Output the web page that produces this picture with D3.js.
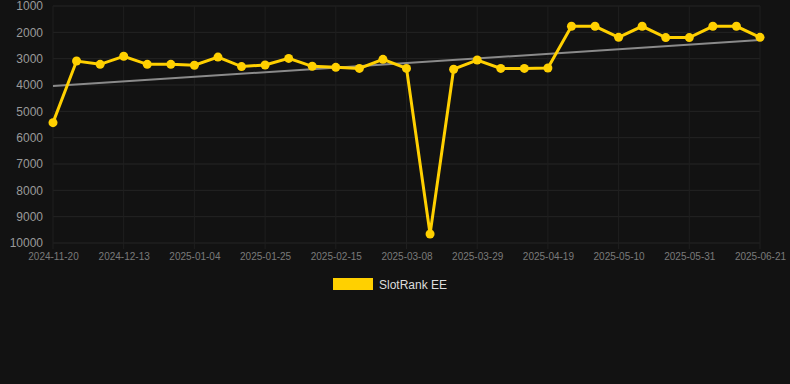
<!DOCTYPE html>
<html>
<head>
<meta charset="utf-8">
<script src="https://cdn.jsdelivr.net/npm/d3@7"></script>
<style>
  body { margin: 0; background: #121212; }
  svg { display: block; font-family: "Liberation Sans", Arial, sans-serif; }
</style>
</head>
<body>
<div id="chart"></div>
<script>
// dates (one point per week roughly), only every third is labelled
var dates = ["2024-11-20", "2024-11-27", "2024-12-06", "2024-12-13", "2024-12-20", "2024-12-27",
  "2025-01-04", "2025-01-11", "2025-01-18", "2025-01-25", "2025-02-01", "2025-02-08",
  "2025-02-15", "2025-02-22", "2025-03-01", "2025-03-08", "2025-03-15", "2025-03-22",
  "2025-03-29", "2025-04-05", "2025-04-12", "2025-04-19", "2025-04-26", "2025-05-03",
  "2025-05-10", "2025-05-17", "2025-05-24", "2025-05-31", "2025-06-07", "2025-06-14",
  "2025-06-21"];
var rankValues = [5430, 3090, 3215, 2910, 3215, 3215, 3250, 2940, 3300, 3240, 2990, 3290,
  3330, 3370, 3025, 3370, 9660, 3400, 3050, 3370, 3370, 3355, 1770, 1770, 2190, 1770,
  2200, 2200, 1770, 1770, 2190];
var trendValues = [4040, 2290]; // start / end of the trend line
var yTicks = [1000, 2000, 3000, 4000, 5000, 6000, 7000, 8000, 9000, 10000];
var seriesName = "SlotRank EE";

var width = 790, height = 384;
var lineColor = "#ffd000";

var svg = d3.select("#chart").append("svg")
  .attr("width", width)
  .attr("height", height);

svg.append("rect").attr("width", width).attr("height", height).attr("fill", "#121212");

// scales
var x = d3.scalePoint()
  .domain(dates)
  .range([53, 760]);

var y = d3.scaleLinear()
  .domain([1000, 10000])
  .range([6, 243]);

var labelled = dates.filter(function(d, i) { return i % 3 == 0; });

// grid
svg.append("g")
  .selectAll("line.h")
  .data(yTicks)
  .enter().append("line")
    .attr("x1", 53).attr("x2", 760)
    .attr("y1", function(d) { return y(d); })
    .attr("y2", function(d) { return y(d); })
    .attr("stroke", "#242424")
    .attr("stroke-width", 1);

svg.append("g")
  .selectAll("line.v")
  .data(labelled)
  .enter().append("line")
    .attr("x1", function(d) { return x(d); })
    .attr("x2", function(d) { return x(d); })
    .attr("y1", 6).attr("y2", 249)
    .attr("stroke", "#1f1f1f")
    .attr("stroke-width", 1);

// y axis
var yAxis = svg.append("g")
  .attr("transform", "translate(53,0)")
  .call(d3.axisLeft(y).tickValues(yTicks).tickSize(0).tickPadding(10).tickFormat(d3.format("d")));
yAxis.select(".domain").remove();
yAxis.selectAll("text")
  .attr("fill", "#9a9a9a")
  .style("font-size", "12px");

// x axis
var xAxis = svg.append("g")
  .attr("transform", "translate(0,243)")
  .call(d3.axisBottom(x).tickValues(labelled).tickSize(0).tickPadding(10));
xAxis.select(".domain").remove();
xAxis.selectAll("text")
  .attr("fill", "#7a7a7a")
  .style("font-size", "10px");

// trend line
svg.append("line")
  .attr("x1", x(dates[0]))
  .attr("x2", x(dates[dates.length - 1]))
  .attr("y1", y(trendValues[0]))
  .attr("y2", y(trendValues[1]))
  .attr("stroke", "#8a8a8a")
  .attr("stroke-width", 2);

// rank line
var line = d3.line()
  .x(function(d, i) { return x(dates[i]); })
  .y(function(d) { return y(d); });

svg.append("path")
  .datum(rankValues)
  .attr("d", line)
  .attr("fill", "none")
  .attr("stroke", lineColor)
  .attr("stroke-width", 3)
  .attr("stroke-linejoin", "miter");

svg.append("g")
  .selectAll("circle")
  .data(rankValues)
  .enter().append("circle")
    .attr("cx", function(d, i) { return x(dates[i]); })
    .attr("cy", function(d) { return y(d); })
    .attr("r", 4.5)
    .attr("fill", lineColor);

// legend
var legend = svg.append("g").attr("transform", "translate(333,278)");
legend.append("rect")
  .attr("width", 40).attr("height", 12)
  .attr("fill", lineColor);
legend.append("text")
  .attr("x", 46).attr("y", 10.5)
  .attr("fill", "#dddddd")
  .style("font-size", "12px")
  .text(seriesName);
</script>
</body>
</html>
